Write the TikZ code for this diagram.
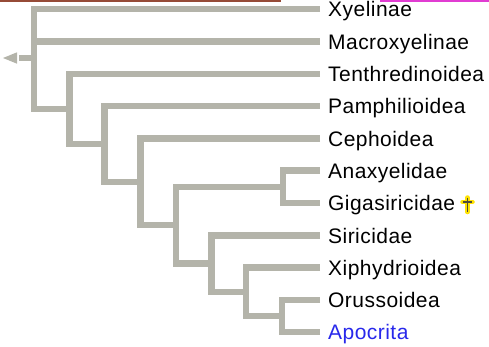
\documentclass[tikz,border=0pt]{standalone}
\usepackage{fontspec}
\setmainfont[LetterSpace=2.2]{Liberation Sans}
\begin{document}
\begin{tikzpicture}[x=1pt,y=-1pt,
  br/.style={draw=branch,line width=6.5pt,line join=miter,line cap=butt},
  leaf/.style={anchor=base west,inner sep=0pt,font=\fontsize{21}{23}\selectfont,text=black},
  apoc/.style={leaf,text=apocblue}]
\definecolor{branch}{RGB}{180,180,170}
\definecolor{apocblue}{RGB}{40,40,235}
\definecolor{topbrown}{RGB}{150,75,55}
\definecolor{topmag}{RGB}{225,60,210}
\useasboundingbox (0,0) rectangle (489,346);
% cropped strips at the top edge
\fill[topbrown] (0,0) rectangle (281,2.2);
\fill[topmag] (380,0) rectangle (489,2.2);
% leaf line ends
\def\lx{320}
\foreach \n/\y in {Xye/9.2,Mac/41.5,Ten/73.8,Pam/106.1,Cep/138.4,Ana/170.7,Gig/203,Sir/235.3,Xip/267.6,Oru/299.9,Apo/332.2}
  {\coordinate (l\n) at (\lx,\y);}
% leaf labels
\node[leaf] (tXye) at (328,16.9) {Xyelinae};
\node[leaf] (tMac) at (328,49.2) {Macroxyelinae};
\node[leaf] (tTen) at (328,81.5) {Tenthredinoidea};
\node[leaf] (tPam) at (328,113.8) {Pamphilioidea};
\node[leaf] (tCep) at (328,146.1) {Cephoidea};
\node[leaf] (tAna) at (328,178.4) {Anaxyelidae};
\node[leaf] (tGig) at (328,210.7) {Gigasiricidae};
\node[leaf] (tSir) at (328,243.0) {Siricidae};
\node[leaf] (tXip) at (328,275.3) {Xiphydrioidea};
\node[leaf] (tOru) at (328,307.6) {Orussoidea};
\node[apoc] (tApo) at (328,339.9) {Apocrita};
% internal nodes
\coordinate (G) at (282,316);
\coordinate (F) at (246,291.8);
\coordinate (E) at (211.5,263.6);
\coordinate (H) at (283,186.9);
\coordinate (D) at (176,225.2);
\coordinate (C) at (140.5,181.8);
\coordinate (B) at (104.5,144);
\coordinate (A) at (69.5,108.9);
\coordinate (R) at (34,58);
\coordinate (stub) at (19,58);
% branches
\draw[br] (lOru) -| (G) |- (lApo);
\draw[br] (lXip) -| (F) |- (G);
\draw[br] (lSir) -| (E) |- (F);
\draw[br] (lAna) -| (H) |- (lGig);
\draw[br] (H) -| (D) |- (E);
\draw[br] (lCep) -| (C) |- (D);
\draw[br] (lPam) -| (B) |- (C);
\draw[br] (lTen) -| (A) |- (B);
\draw[br] (lXye) -| (R) |- (A);
\draw[br] (lMac) -- (lMac -| R);
\draw[br] (stub) -- (R);
% root arrowhead
\fill[branch] (3,58) -- (17,52.3) -- (17,63.7) -- cycle;
% extinct marker
\begin{scope}[shift={(467.5,204)}]
  \draw[yellow!85!orange,line width=4.5pt,line cap=round] (0,-6.5) -- (0,8) (-5,-2) -- (5,-2);
  \draw[black!80!yellow,line width=1.6pt] (0,-6.5) -- (0,8) (-4.5,-2) -- (4.5,-2);
\end{scope}
\end{tikzpicture}
\end{document}
